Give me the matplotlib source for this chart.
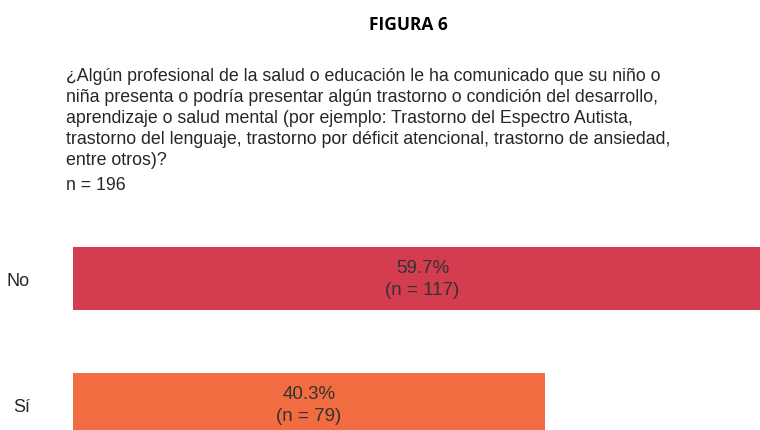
import matplotlib.pyplot as plt

categorias = ["Sí", "No"]
porcentajes = [40.3, 59.7]
conteos = [79, 117]
colores = ["#F26C42", "#D43D50"]

titulo = "FIGURA 6"
pregunta = ("¿Algún profesional de la salud o educación le ha comunicado que su niño o\n"
            "niña presenta o podría presentar algún trastorno o condición del desarrollo,\n"
            "aprendizaje o salud mental (por ejemplo: Trastorno del Espectro Autista,\n"
            "trastorno del lenguaje, trastorno por déficit atencional, trastorno de ansiedad,\n"
            "entre otros)?")
total = "n = 196"

plt.rcParams['font.family'] = ['Liberation Sans', 'DejaVu Sans']

fig = plt.figure(figsize=(7.6, 4.31), dpi=100)
fig.text(408 / 760, 1 - 25 / 431, titulo, ha="center", va="center",
         fontsize=12.5, fontweight="bold", family=["Open Sans", "DejaVu Sans"])
fig.text(66 / 760, 1 - 68 / 431, pregunta, ha="left", va="top",
         fontsize=12.8, color="#262626", linespacing=1.3)
fig.text(66 / 760, 1 - 185 / 431, total, ha="left", va="center",
         fontsize=12.8, color="#262626")

# ejes: izquierda en x=73 px, abajo en el borde de la figura
ax = fig.add_axes([73 / 760, 0, 1 - 73 / 760, (431 - 215) / 431])
y = list(range(len(categorias)))
ax.barh(y, porcentajes, height=0.5, color=colores)
for yi, p, c in zip(y, porcentajes, conteos):
    ax.text(p / 2, yi, f"{p}%\n(n = {c})", ha="center", va="center",
            fontsize=13.5, color="#333333", linespacing=1.35)

ax.set_xlim(0, 58.7)
ax.set_ylim(-0.202, 1.51)
ax.set_yticks(y)
ax.set_yticklabels(categorias, fontsize=13, color="#262626")
ax.tick_params(axis="y", length=0, pad=31)
ax.set_xticks([])
for s in ax.spines.values():
    s.set_visible(False)

fig.savefig("out.png", dpi=100)
